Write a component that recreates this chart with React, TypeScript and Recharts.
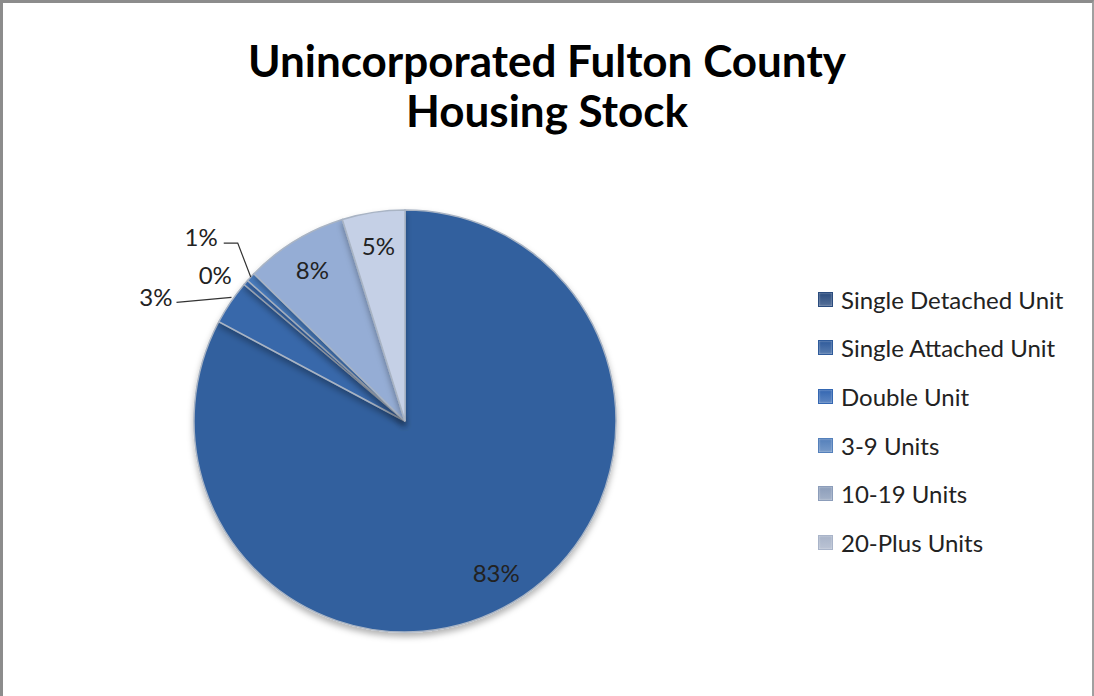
import React from 'react';
import { PieChart, Pie, Cell, Legend } from 'recharts';

// Housing stock shares (percent of units)
const categories = [
  'Single Detached Unit',
  'Single Attached Unit',
  'Double Unit',
  '3-9 Units',
  '10-19 Units',
  '20-Plus Units',
];
const shares = [82.8, 3.4, 0.4, 0.7, 7.9, 4.8];

const sliceColors = ['#31609E', '#3767AA', '#3C6FB8', '#4A7DC0', '#95ADD5', '#C5D0E6'];
const legendColors = ['#2B4C7E', '#2F5B9B', '#3467B2', '#5480BB', '#8C9DBA', '#A9B4C9'];

const data = categories.map((name, i) => ({ name, value: shares[i] }));

const FONT = 'Lato, "Open Sans", sans-serif';
const RAD = Math.PI / 180;

// label placement per slice: big ones sit inside, small ones get leader lines
const renderLabel = (props: any) => {
  const { cx, cy, midAngle, outerRadius, percent, index } = props;
  const text = `${Math.round(percent * 100)}%`;
  const cos = Math.cos(-midAngle * RAD);
  const sin = Math.sin(-midAngle * RAD);
  const common = { fontFamily: FONT, fontSize: 24, fill: '#222' };

  if (index === 0 || index >= 4) {
    const r = outerRadius * 0.84;
    return (
      <text x={cx + r * cos} y={cy + r * sin} textAnchor="middle" dominantBaseline="central" {...common}>
        {text}
      </text>
    );
  }

  const ex = cx + outerRadius * cos;
  const ey = cy + outerRadius * sin;

  if (index === 1) {
    // 3%: leader goes left
    const sx = ex + 1;
    const sy = ey - 5;
    const lx = ex - 54;
    const ly = ey;
    return (
      <g>
        <polyline points={`${sx},${sy} ${lx},${ly}`} fill="none" stroke="#333" strokeWidth={1.2} />
        <text x={lx - 4} y={ly - 6} textAnchor="end" dominantBaseline="central" {...common}>{text}</text>
      </g>
    );
  }
  if (index === 2) {
    return (
      <text x={ex - 14} y={ey - 8} textAnchor="end" dominantBaseline="central" {...common}>
        {text}
      </text>
    );
  }
  // 1%: leader goes up then left
  const mx = ex - 13;
  const my = ey - 34;
  const lx = mx - 14;
  return (
    <g>
      <polyline points={`${ex},${ey} ${mx},${my} ${lx},${my}`} fill="none" stroke="#333" strokeWidth={1.2} />
      <text x={lx - 6} y={my - 7} textAnchor="end" dominantBaseline="central" {...common}>{text}</text>
    </g>
  );
};

const LegendContent = () => (
  <div style={{ fontFamily: FONT, fontSize: 24, color: '#222' }}>
    {categories.map((c, i) => (
      <div key={c} style={{ display: 'flex', alignItems: 'center', height: 48.6 }}>
        <span
          style={{
            display: 'inline-block',
            width: 13,
            height: 13,
            marginRight: 8,
            flex: 'none',
            background: `linear-gradient(180deg, ${legendColors[i]}, ${legendColors[i]}cc)`,
            border: `1px solid ${legendColors[i]}`,
            boxShadow: 'inset 0 0 2px rgba(255,255,255,0.6)',
          }}
        />
        <span style={{ whiteSpace: 'nowrap' }}>{c}</span>
      </div>
    ))}
  </div>
);

export default function App() {
  return (
    <div
      style={{
        position: 'absolute',
        left: 0,
        top: 0,
        width: 1094,
        height: 696,
        background: '#fff',
        boxSizing: 'border-box',
        borderTop: '3px solid #8c8c8c',
        borderLeft: '3px solid #8c8c8c',
        borderRight: '2px solid #a0a0a0',
        overflow: 'hidden',
      }}
    >
      <div
        style={{
          position: 'absolute',
          left: -3,
          width: 1094,
          top: 32,
          textAlign: 'center',
          fontFamily: FONT,
          fontWeight: 700,
          fontSize: 44,
          lineHeight: '50px',
          color: '#000',
        }}
      >
        Unincorporated Fulton County
        <br />
        Housing Stock
      </div>
      <div style={{ position: 'absolute', left: -3, top: -3 }}>
        <PieChart width={1094} height={696} margin={{ top: 0, right: 0, bottom: 0, left: 0 }}>
          <defs>
            <filter id="shadow" x="-10%" y="-10%" width="120%" height="125%">
              <feDropShadow dx="0" dy="4" stdDeviation="3" floodColor="#000" floodOpacity="0.3" />
            </filter>
          </defs>
          <Pie
            data={data}
            dataKey="value"
            nameKey="name"
            cx={405}
            cy={421}
            outerRadius={211}
            startAngle={90}
            endAngle={-270}
            stroke="#A9B4C4"
            strokeWidth={1.5}
            label={renderLabel}
            labelLine={false}
            isAnimationActive={false}
            style={{ filter: 'url(#shadow)' }}
          >
            {data.map((d, i) => (
              <Cell key={d.name} fill={sliceColors[i]} />
            ))}
          </Pie>
          <Legend
            layout="vertical"
            content={<LegendContent />}
            wrapperStyle={{ position: 'absolute', left: 818, top: 275, width: 276 }}
          />
        </PieChart>
      </div>
    </div>
  );
}
